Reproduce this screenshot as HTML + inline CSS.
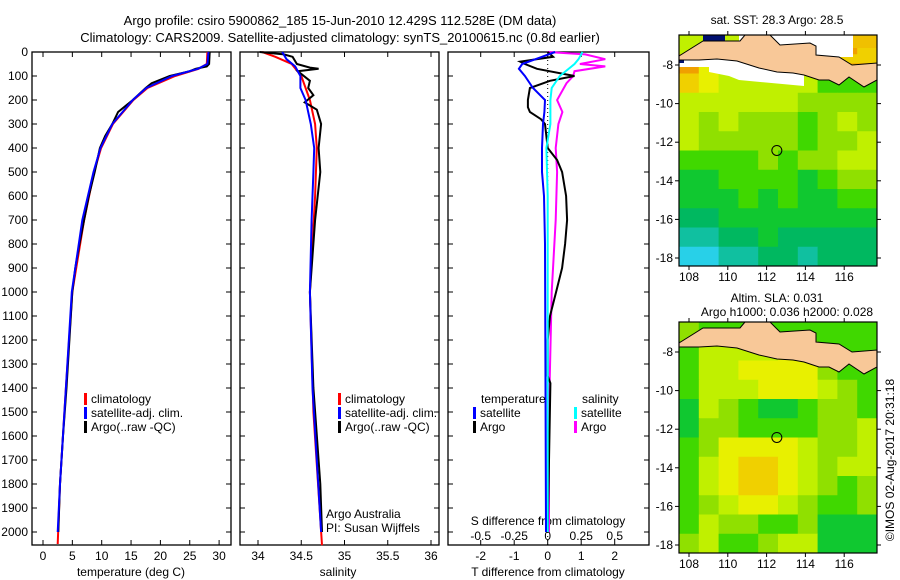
<!DOCTYPE html>
<html><head><meta charset="utf-8"><style>
body{margin:0;background:#fff}
svg{display:block;font-family:"Liberation Sans",sans-serif}
text{font-size:12px;fill:#000}
</style></head><body>
<svg id="s" width="900" height="580" viewBox="0 0 900 580">
<text x="340" y="25" text-anchor="middle" style="font-size:13px">Argo profile: csiro 5900862_185 15-Jun-2010 12.429S 112.528E (DM data)</text>
<text x="340" y="42" text-anchor="middle" style="font-size:13px">Climatology: CARS2009. Satellite-adjusted climatology: synTS_20100615.nc (0.8d earlier)</text>
</svg>
<script>
// ---- temperature panel data (depth m, value deg C)
const tArgoD=[0,50,60,70,80,100,130,150,200,250,300,350,400,500,600,700,800,900,1000,1200,1400,1600,1800,2000];
const tArgoV=[28.4,28.3,27.9,26.0,25.0,21.6,18.5,17.5,15.3,12.8,11.8,10.6,9.7,8.8,7.8,7.0,6.2,5.5,5.0,4.5,4.0,3.4,2.9,2.6];
const tClimD=[0,50,70,100,150,200,300,400,500,700,1000,1400,1800,2050];
const tClimV=[28.0,27.9,26.5,22.5,17.8,15.4,11.9,9.9,8.7,7.0,5.0,3.9,2.9,2.5];
const tSatD=[0,50,70,100,150,200,300,400,500,700,1000,1400,1800,2000];
const tSatV=[28.2,28.0,26.4,22.0,17.6,15.3,11.8,9.8,8.6,6.7,4.9,3.9,2.9,2.5];
// ---- salinity panel data
const sArgoD=[0,10,20,50,65,70,80,120,150,180,210,240,300,400,500,700,1000,1400,1800,2000];
const sArgoV=[34.02,34.3,34.4,34.45,34.6,34.7,34.46,34.6,34.58,34.64,34.54,34.68,34.73,34.7,34.72,34.66,34.6,34.64,34.72,34.74];
const sClimD=[0,20,50,100,150,200,300,400,600,1000,1500,2055];
const sClimV=[34.05,34.2,34.39,34.5,34.55,34.6,34.66,34.68,34.66,34.6,34.64,34.74];
const sSatD=[0,30,60,100,150,200,300,400,500,700,1000,1400,2000];
const sSatV=[34.28,34.33,34.43,34.49,34.49,34.55,34.61,34.65,34.64,34.62,34.6,34.63,34.73];
// ---- difference panel data
const dTSatD=[0,20,50,70,100,150,200,250,300,400,500,600,800,2000];
const dTSatV=[0.22,-0.17,-0.76,-0.86,-0.68,-0.44,-0.08,-0.1,-0.14,-0.17,-0.17,-0.11,-0.08,-0.05];
const dTArgoD=[0,20,40,50,70,100,120,150,200,230,250,280,300,400,450,500,600,700,800,900,1000,1100,1200,1350,1380,2000];
const dTArgoV=[0,0.16,-0.82,-0.68,-0.32,0.8,0.07,-0.53,-0.59,-0.59,-0.53,-0.2,-0.08,0,0.28,0.43,0.55,0.58,0.52,0.43,0.25,0.07,0,0,0.08,0];
const dSArgoD=[0,10,30,50,60,80,100,130,200,250,300,400,500,700,1000,1500,2000];
const dSArgoV=[0,0.28,0.43,0.24,0.43,0.2,0.19,0.14,0.07,0.11,0.08,0.06,0.07,0.06,0.03,0.01,0.01];
const dSSatD=[0,30,50,100,150,200,300,400,600,1000,2000];
const dSSatV=[0.26,0.23,0.2,0.09,0.03,0.02,0.02,-0.01,0,0,0];
const depthTicks=[0,100,200,300,400,500,600,700,800,900,1000,1100,1200,1300,1400,1500,1600,1700,1800,1900,2000];
const tempTicks=[0,5,10,15,20,25,30];
const salTicks=[34,34.5,35,35.5,36];
const tdTicks=[-2,-1,0,1,2];
const sdTicks=[-0.5,-0.25,0,0.25,0.5];
const sdTickLabels=["-0.5","-0.25","0","0.25","0.5"];
// ---- maps (colour index 0-9 per cell, rows top->bottom)
const sstGrid=["6666666698","9766666488","8766666444","6666665555","6565554565","6555554556","4444545566","3344443455","3334343344","2233333333","1122322222","0011221222"];
const slaGrid=["5444444444","4666676444","4667777544","4666777654","3654334554","3554444556","4577776556","4678876566","4678876545","4567765445","4655445333","5644566333"];
const lonTicks=[108,110,112,114,116];
const latTicks=[-8,-10,-12,-14,-16,-18];
const argoLon=112.528, argoLat=-12.429;

const NS="http://www.w3.org/2000/svg";
const svg=document.getElementById('s');
function mk(tag,attrs,parent){const e=document.createElementNS(NS,tag);for(const k in attrs)e.setAttribute(k,attrs[k]);(parent||svg).appendChild(e);return e;}
function txt(x,y,s,anchor,name,extra){const e=mk('text',Object.assign({x:x,y:y,'text-anchor':anchor||'start'},extra||{}));e.textContent=s;


return e;}
const Y=d=>52+d*0.24;
const tx=t=>43+t*5.87;
const sx=s=>258+(s-34)*86.5;
const dx=t=>547.7+t*33.5;
const dsx=s=>547.7+s*134;
const panels=[[32,231,'temperature-panel'],[240,439,'salinity-panel'],[448,649,'difference-panel']];
panels.forEach(p=>{
  const r=mk('rect',{x:p[0],y:52,width:p[1]-p[0],height:493,fill:'none',stroke:'#000','stroke-width':1.3});
  
  
  depthTicks.forEach(d=>{mk('line',{x1:p[0],x2:p[0]+5,y1:Y(d),y2:Y(d),stroke:'#000'});mk('line',{x1:p[1]-5,x2:p[1],y1:Y(d),y2:Y(d),stroke:'#000'});});
});
depthTicks.forEach(d=>txt(28,Y(d)+4,String(d),'end','depth-tick-label'));
function vt(x){mk('line',{x1:x,x2:x,y1:545,y2:540,stroke:'#000'});mk('line',{x1:x,x2:x,y1:52,y2:57,stroke:'#000'});}
tempTicks.forEach(t=>{vt(tx(t));txt(tx(t),560,String(t),'middle','temp-tick-label');});
salTicks.forEach(s=>{vt(sx(s));txt(sx(s),560,String(s),'middle','salinity-tick-label');});
tdTicks.forEach(t=>{mk('line',{x1:dx(t),x2:dx(t),y1:545,y2:540,stroke:'#000'});txt(dx(t),560,String(t),'middle','t-diff-tick-label');});
sdTicks.forEach((s,i)=>{mk('line',{x1:dsx(s),x2:dsx(s),y1:52,y2:57,stroke:'#000'});txt(dsx(s),540,sdTickLabels[i],'middle','s-diff-tick-label');});
txt(131,576,'temperature (deg C)','middle','x-axis-title-temperature');
txt(338,576,'salinity','middle','x-axis-title-salinity');
txt(548,576,'T difference from climatology','middle','x-axis-title-t-diff');
txt(548,525,'S difference from climatology','middle','axis-title-s-diff');
mk('line',{x1:dx(0),x2:dx(0),y1:52,y2:545,stroke:'#000','stroke-dasharray':'1,3'});
function line(D,V,f,color,name){
  const pts=D.map((d,i)=>f(V[i]).toFixed(1)+','+Y(d).toFixed(1)).join(' ');
  const e=mk('polyline',{points:pts,fill:'none',stroke:color,'stroke-width':2});
  
  
}
line(tClimD,tClimV,tx,'#f00','temp-climatology-line');
line(tArgoD,tArgoV,tx,'#000','temp-argo-line');
line(tSatD,tSatV,tx,'#00f','temp-satellite-line');
line(sClimD,sClimV,sx,'#f00','salinity-climatology-line');
line(sArgoD,sArgoV,sx,'#000','salinity-argo-line');
line(sSatD,sSatV,sx,'#00f','salinity-satellite-line');
line(dSArgoD,dSArgoV,dsx,'#f0f','s-diff-argo-line');
line(dTArgoD,dTArgoV,dx,'#000','t-diff-argo-line');
line(dSSatD,dSSatV,dsx,'#0ff','s-diff-satellite-line');
line(dTSatD,dTSatV,dx,'#00f','t-diff-satellite-line');
function leg(x,y,color,label,name){const m=mk('rect',{x:x,y:y-10,width:3,height:12,fill:color});


txt(x+7,y,label,'start',name);}
[[84,'climatology-legend'],[338,'salinity-climatology-legend']].forEach(L=>{
  leg(L[0],403,'#f00','climatology',L[1]);
  leg(L[0],417,'#00f','satellite-adj. clim.','satellite-legend');
  leg(L[0],431,'#000','Argo(..raw -QC)','argo-legend');
});
txt(481,403,'temperature','start','legend-temperature-header');
txt(582,403,'salinity','start','legend-salinity-header');
leg(473,417,'#00f','satellite','legend-t-satellite');
leg(473,431,'#000','Argo','legend-t-argo');
leg(574,417,'#0ff','satellite','legend-s-satellite');
leg(574,431,'#f0f','Argo','legend-s-argo');
txt(326,518,'Argo Australia','start','credit-argo-australia');
txt(326,532,'PI: Susan Wijffels','start','credit-pi');
// ---- maps
const cmap=['#28d0e8','#10c0a0','#00b860','#10c830','#40d800','#90e000','#c0f000','#e8f000','#f0d000','#f0a000'];
function drawMap(x0,y0,grid,name,white){
  const W=198,H=231,ny=grid.length,nx=grid[0].length;
  const g=mk('g',{});
  
  
  grid.forEach((row,r)=>{for(let c=0;c<nx;c++){mk('rect',{x:x0+c*W/nx,y:y0+r*H/ny,width:W/nx+0.5,height:H/ny+0.5,fill:cmap[+row[c]]},g);}});
  const P=(a)=>a.map(p=>(x0+p[0])+','+(y0+p[1])).join(' ');
  if(white){
    mk('polygon',{points:P([[0,25],[20,25],[38,24],[58,26],[80,33],[98,37],[114,38],[125,40],[125,51],[60,45],[50,41],[30,37],[30,32],[0,32]]),fill:'#fff'},g);
    mk('rect',{x:x0+60,y:y0,width:114,height:22,fill:'#fff'},g);
    mk('rect',{x:x0+174,y:y0,width:24,height:13,fill:'#f0c000'},g);
    mk('rect',{x:x0+171,y:y0+28,width:27,height:8,fill:'#f0b000'},g);
    mk('rect',{x:x0+24,y:y0,width:22,height:8,fill:'#001070'},g);
    mk('rect',{x:x0,y:y0+21,width:5,height:7,fill:'#001070'},g);}
  const land=mk('polygon',{points:P([[0,21],[24,6],[61,6],[66,0],[91,0],[101,10],[131,8],[137,11],[137,20],[160,22],[173,30],[198,28],[198,45],[185,52],[170,42],[160,50],[150,45],[140,45],[134,43],[125,40],[114,38],[98,37],[80,33],[58,26],[38,24],[20,25],[0,25]]),fill:'#f8c898',stroke:'#000','stroke-width':1},g);
  
  
  mk('rect',{x:x0,y:y0,width:W,height:H,fill:'none',stroke:'#000','stroke-width':1.2},g);
  const mx=lon=>x0+10+(lon-108)*19.4, my=lat=>y0+30+(-8-lat)*19.3;
  lonTicks.forEach(l=>{mk('line',{x1:mx(l),x2:mx(l),y1:y0+H,y2:y0+H+4,stroke:'#000'});mk('line',{x1:mx(l),x2:mx(l),y1:y0,y2:y0-4,stroke:'#000'});txt(mx(l),y0+H+15,String(l),'middle','map-lon-label');});
  latTicks.forEach(l=>{mk('line',{x1:x0,x2:x0-4,y1:my(l),y2:my(l),stroke:'#000'});mk('line',{x1:x0+W,x2:x0+W+4,y1:my(l),y2:my(l),stroke:'#000'});txt(x0-6,my(l)+4,String(l),'end','map-lat-label');});
  const c=mk('circle',{cx:mx(argoLon),cy:my(argoLat),r:5,fill:'none',stroke:'#000'});
  
  
}
drawMap(679,35,sstGrid,'sst-map',true);
drawMap(679,322,slaGrid,'sla-map',false);
txt(777,24,'sat. SST: 28.3 Argo: 28.5','middle','sst-map-title');
txt(777,302,'Altim. SLA: 0.031','middle','sla-map-title');
txt(787,316,'Argo h1000: 0.036 h2000: 0.028','middle','sla-map-subtitle');
txt(0,0,'©IMOS 02-Aug-2017 20:31:18','middle','imos-timestamp',{transform:'translate(894,460) rotate(-90)'});
</script>
</body></html>
